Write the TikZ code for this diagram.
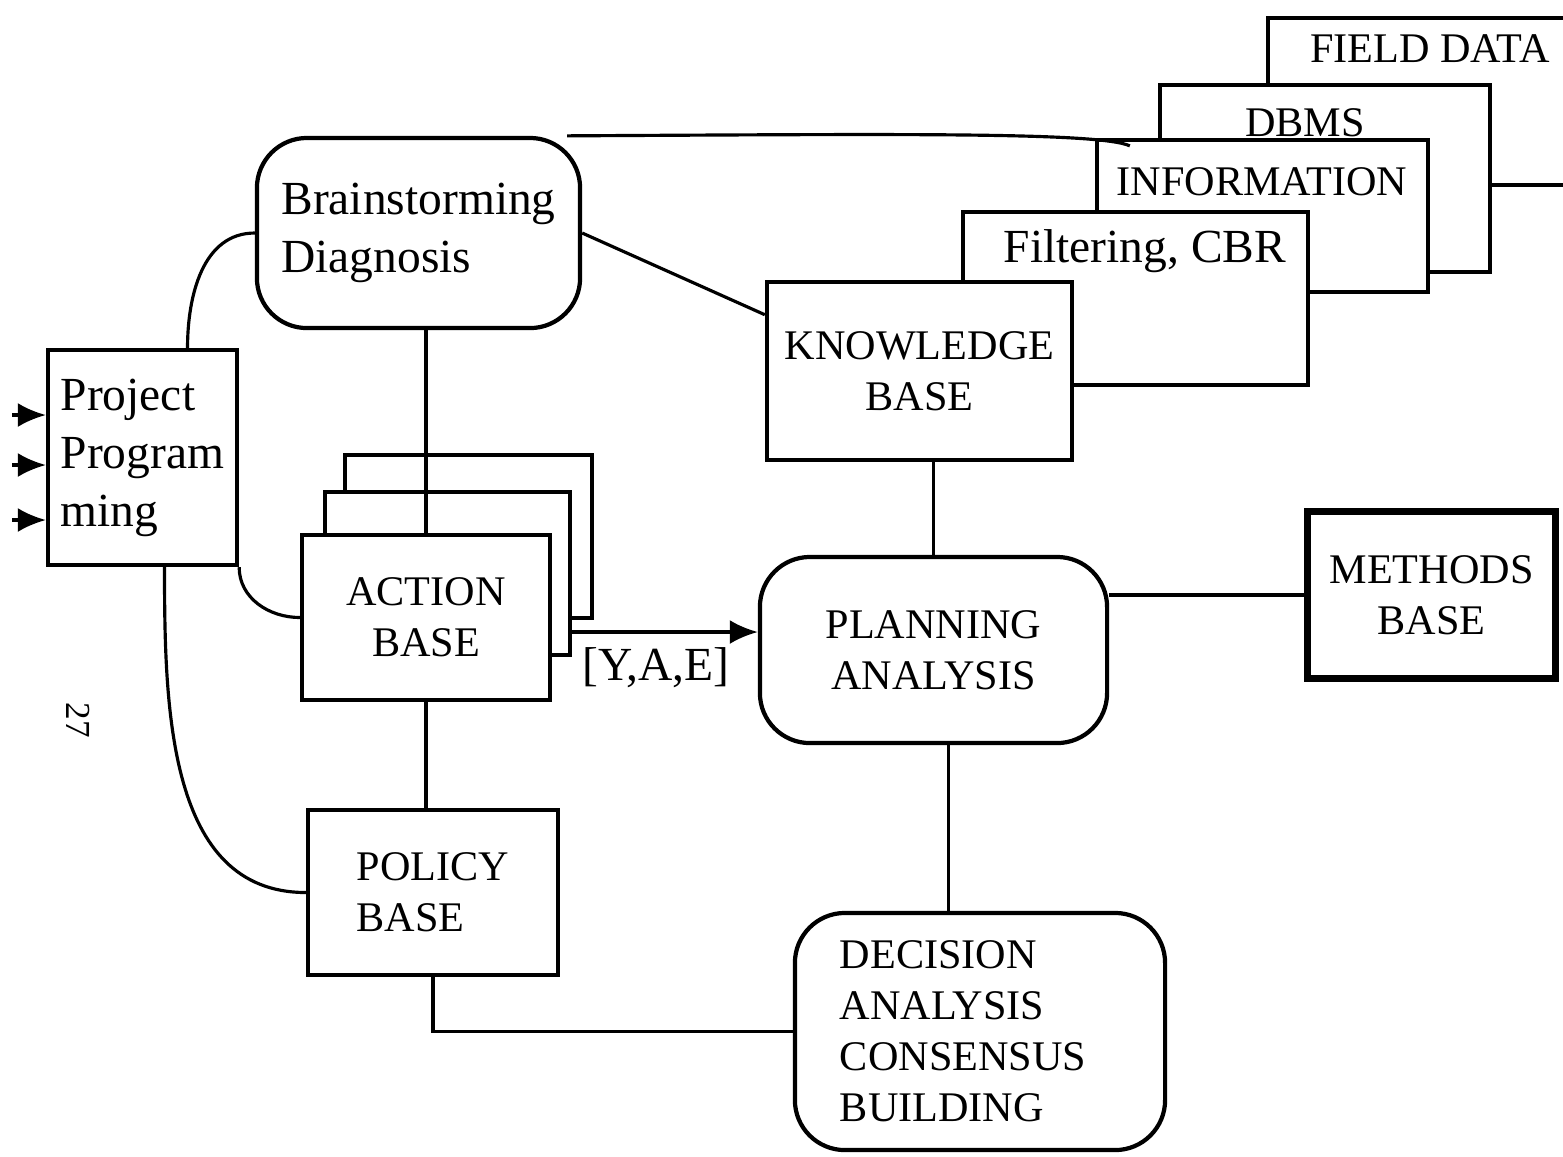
\documentclass[tikz,border=0pt]{standalone}
\usepackage{fontspec}
\setmainfont{Liberation Serif}
\usetikzlibrary{arrows.meta}
\usetikzlibrary{positioning}
\usetikzlibrary{calc}

\begin{document}
\begin{tikzpicture}[x=0.01cm, y=-0.01cm, line width=0.9pt,
	box/.style={draw, line width=1.2pt, fill=white, inner sep=0pt},
	roundbox/.style={box, rounded corners=0.5cm},
	big/.style={font=\fontsize{13.5}{16.5}\selectfont},
	caps/.style={font=\fontsize{12}{14.5}\selectfont},
	tip/.style={-{Latex[length=0.28cm, width=0.24cm]}}]
	\useasboundingbox (0,0) rectangle (1563,1156);

	%stacked data sources behind the knowledge base
	\node[box, minimum width=3.5cm, minimum height=1.67cm] (fd) at (1443,101.5) {};
	\node[box, minimum width=3.3cm, minimum height=1.87cm] (dbms) at (1325,178.5) {};
	\node[box, minimum width=3.31cm, minimum height=1.52cm] (info) at (1262.5,216) {};
	\node[box, minimum width=3.45cm, minimum height=1.73cm] (fc) at (1135.5,298.5) {};
	\node[caps, anchor=base] (fdt) at (1430,62) {FIELD DATA};
	\node[caps, anchor=base] (dbmst) at (1305,136) {DBMS};
	\node[caps, anchor=base] (infot) at (1262,195) {INFORMATION};
	\node[big, anchor=base] (fct) at (1145,262) {Filtering, CBR};

	%main boxes
	\node[roundbox, big, align=left, minimum width=3.23cm, minimum height=1.9cm] (bd) at (418.5,233) {Brainstorming\\Diagnosis};
	\node[box, big, align=left, minimum width=1.89cm, minimum height=2.15cm] (pp) at (142.5,457.5) {Project\\Program\\ming};
	\node[box, minimum width=2.47cm, minimum height=1.63cm] (ab3) at (468.5,536.5) {}; % back copies
	\node[box, minimum width=2.45cm, minimum height=1.63cm] (ab2) at (447.5,573.5) {};
	\node[box, caps, align=center, minimum width=2.48cm, minimum height=1.65cm] (ab) at (426,617.5) {ACTION\\BASE};
	\node[box, caps, align=left, minimum width=2.5cm, minimum height=1.65cm] (po) at (433,892.5) {POLICY\\BASE};
	\node[box, caps, align=center, minimum width=3.05cm, minimum height=1.78cm] (kb) at (919.5,371) {KNOWLEDGE\\BASE};
	\node[roundbox, caps, align=center, minimum width=3.47cm, minimum height=1.86cm] (pa) at (933.5,650) {PLANNING\\ANALYSIS};
	\node[box, caps, line width=2pt, align=center, minimum width=2.47cm, minimum height=1.66cm] (mb) at (1431.5,595) {METHODS\\BASE};
	\node[roundbox, caps, align=left, text width=2.8cm, minimum width=3.7cm, minimum height=2.37cm] (dec) at (980,1031.5) {DECISION\\ANALYSIS\\CONSENSUS\\BUILDING};
	\node[font=\fontsize{10}{12}\selectfont, rotate=-90] (pagenum) at (78,720) {27};

	%inputs
	\foreach \y/\n in {415/1, 465/2, 520/3}
		\coordinate (in\n) at (12,\y);
	\foreach \n in {1,2,3}
		\draw[tip] (in\n) -- (in\n -| pp.west);

	%links
	\draw ([xshift=-0.15cm]bd.north east) .. controls (900,134) and (1100,132) .. ([xshift=0.35cm, yshift=-0.08cm]info.north west);
	\draw ([xshift=0.45cm]pp.north) to[out=90, in=180] (bd.west);
	\draw (pp.south east) to[out=-90, in=180] (ab.west);
	\draw ([xshift=0.22cm]pp.south) to[out=-90, in=180] (po.west);
	\draw (bd.south -| ab.north) -- (ab.north);
	\draw (bd.east) -- (kb.160);
	\draw (ab.south) -- (ab.south |- po.north);
	\draw (po.south) |- (dec.west);
	\draw (pa.north |- kb.south) -- (pa.north);
	\draw (pa.east |- mb.west) -- (mb.west);
	\draw ([xshift=0.15cm]pa.south) -- ([xshift=0.15cm]pa.south |- dec.north);
	\coordinate (arrowend) at ($(pa.west)+(0,-18)$);
	\draw[tip] (ab2.east |- arrowend) -- (arrowend) node[pos=0.45, below=0.02cm, big] (yae) {[Y,A,E]};
\end{tikzpicture}
\end{document}
